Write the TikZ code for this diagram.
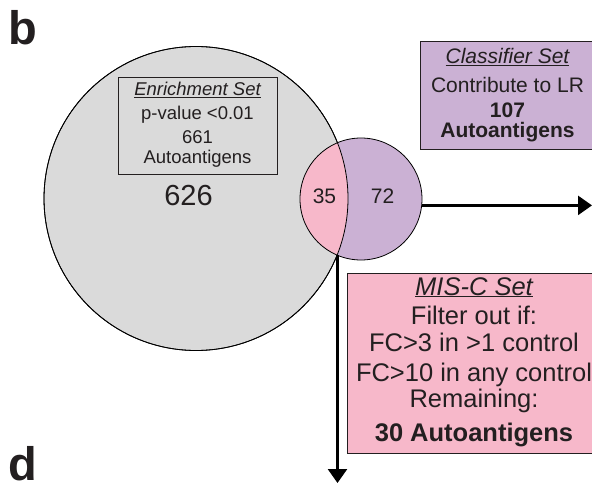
\documentclass[tikz,border=0pt]{standalone}
\usepackage{fontspec}
\setmainfont{Liberation Sans}
\usetikzlibrary{arrows.meta}
\definecolor{vgray}{HTML}{DADADA}
\definecolor{vpink}{HTML}{F7B8CA}
\definecolor{vpurple}{HTML}{CBB1D4}
\definecolor{ink}{HTML}{231F20}
\tikzset{
  txt/.style={inner sep=0pt, anchor=base, text=ink},
  setbox/.style={draw=ink, line width=0.8pt, inner sep=0pt},
  flow/.style={line width=2.6pt, draw=black, -{Triangle[width=19pt,length=14pt]}},
  enrtxt/.style={txt, font=\fontsize{18.5}{22}\selectfont},
  clstxt/.style={txt, font=\fontsize{21}{25}\selectfont},
  mistxt/.style={txt, font=\fontsize{25.5}{30}\selectfont},
}
\begin{document}
\begin{tikzpicture}[x=1pt,y=-1pt]
\useasboundingbox (0,0) rectangle (592,484);
\fill[white] (0,0) rectangle (592,484);
% Venn circles
\node[circle, minimum size=304pt, inner sep=0pt, fill=vgray, draw=black, line width=0.8pt] (big) at (196,198.5) {};
\node[circle, minimum size=122pt, inner sep=0pt, fill=vpurple] (small) at (361,199) {};
\begin{scope}
  \clip (big.center) circle (152pt);
  \fill[vpink] (small.center) circle (61pt);
\end{scope}
\draw[black, line width=0.8pt] (small.center) circle (61pt);
\draw[black, line width=0.8pt] (big.center) circle (152pt);
% boxes
\node[setbox, minimum width=159pt, minimum height=97pt] (enr) at (197.5,125.5) {};
\node[setbox, fill=vpurple, minimum width=176pt, minimum height=108pt] (cls) at (508,95) {};
\node[setbox, fill=vpink, minimum width=254pt, minimum height=180pt] (mis) at (474,363) {};
% enrichment text
\node[enrtxt] (e1) at (197.5,95.5) {\underline{\itshape Enrichment Set}};
\node[enrtxt] (e2) at (197.5,119.3) {p-value <0.01};
\node[enrtxt] (e3) at (197.5,143.5) {661};
\node[enrtxt] (e4) at (197.5,163.5) {Autoantigens};
% counts
\node[txt, font=\fontsize{29}{32}\selectfont] (n626) at (188.5,205) {626};
\node[txt, font=\fontsize{21}{24}\selectfont] (n35) at (324.5,204) {35};
\node[txt, font=\fontsize{21}{24}\selectfont] (n72) at (382.5,204) {72};
% classifier text
\node[clstxt] (c1) at (507.5,63.5) {\underline{\itshape Classifier Set}};
\node[clstxt] (c2) at (507.5,92.7) {Contribute to LR};
\node[clstxt, font=\bfseries\fontsize{21}{25}\selectfont] (c3) at (507.5,117.5) {107};
\node[clstxt, font=\bfseries\fontsize{21}{25}\selectfont] (c4) at (507.5,138) {Autoantigens};
% MIS-C text
\node[mistxt] (m1) at (474,295) {\underline{\itshape MIS-C Set}};
\node[mistxt] (m2) at (474,324.3) {Filter out if:};
\node[mistxt] (m3) at (474,351.7) {FC>3 in >1 control};
\node[mistxt] (m4) at (474,381.5) {FC>10 in any control};
\node[mistxt] (m5) at (474,407) {Remaining:};
\node[mistxt, font=\bfseries\fontsize{25.5}{30}\selectfont] (m6) at (474,441.7) {30 Autoantigens};
% arrows
\coordinate (hend) at (592,205);
\coordinate (ibot) at (337.5,254.8);
\coordinate (vend) at (337.5,483);
\draw[flow] (small.-6) -- (small.-6 -| hend);
\draw[flow] (ibot) -- (vend);
% panel labels
\node[txt, anchor=base west, font=\fontsize{47}{50}\selectfont\bfseries] (lb) at (8,45) {b};
\node[txt, anchor=base west, font=\fontsize{47}{50}\selectfont\bfseries] (ld) at (8,480) {d};
\end{tikzpicture}
\end{document}
